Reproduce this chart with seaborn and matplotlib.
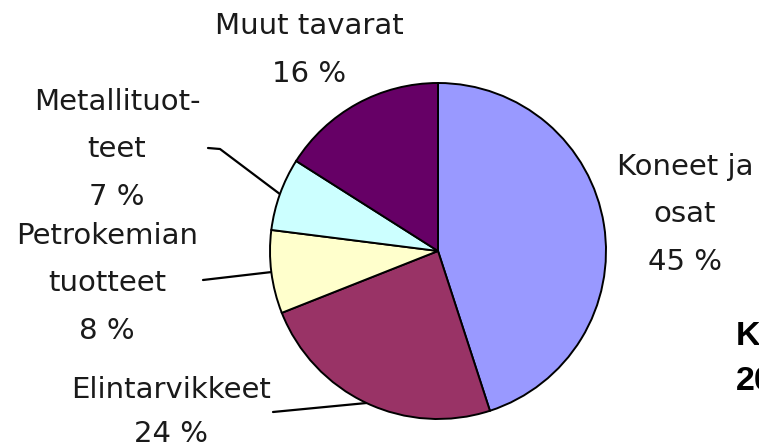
import matplotlib
matplotlib.use("Agg")
import matplotlib.pyplot as plt
import numpy as np
import seaborn as sns

# Data: shares of goods (%), clockwise from the top
categories = ["Koneet ja\nosat", "Elintarvikkeet", "Petrokemian\ntuotteet",
              "Metallituot-\nteet", "Muut tavarat"]
shares = [45, 24, 8, 7, 16]
colors = ["#9999FF", "#993366", "#FFFFCC", "#CCFFFF", "#660066"]

sns.set_theme(style="white")
plt.rcParams["font.family"] = ["DejaVu Sans"]

W, H = 759, 447
fig = plt.figure(figsize=(W / 100, H / 100), dpi=100)
ax = fig.add_axes([0, 0, 1, 1])

cx, cy, r = 438, H - 251, 168
wedges, _ = ax.pie(
    shares,
    colors=sns.color_palette(colors),
    startangle=90,
    counterclock=False,
    center=(cx, cy),
    radius=r,
    wedgeprops=dict(edgecolor="black", linewidth=1.4),
)
ax.set_xlim(0, W)
ax.set_ylim(0, H)
ax.set_aspect("auto")
ax.axis("off")

# label placement (image coords: centre x, last baseline y, line spacing)
label_pos = [(685, 270, 1.89), (171, 442, 1.72), (107, 339, 1.89),
             (117, 205, 1.89), (309, 82, 1.89)]
# leader lines: text-side points (image coords), None = no leader
leader_pts = [None, [(273, 412)], [(203, 280)], [(208, 148), (220, 149)], None]

for w, cat, val, (lx, ly, ls), pts in zip(wedges, categories, shares,
                                         label_pos, leader_pts):
    ax.text(lx, H - ly, f"{cat}\n{val} %", ha="center", va="baseline",
            fontsize=21, color="#1a1a1a", linespacing=ls)
    if pts:
        mid = np.deg2rad((w.theta1 + w.theta2) / 2)
        ex, ey = cx + r * np.cos(mid), cy + r * np.sin(mid)
        xs = [p[0] for p in pts] + [ex]
        ys = [H - p[1] for p in pts] + [ey]
        ax.plot(xs, ys, color="black", linewidth=1.6, zorder=0)

# title text, cut off at the right edge in the original
ax.text(736, H - 345, "K", fontsize=24.5, fontweight="bold", color="black",
        family="Liberation Sans", ha="left", va="baseline")
ax.text(736, H - 390, "20", fontsize=24.5, fontweight="bold", color="black",
        family="Liberation Sans", ha="left", va="baseline")

fig.savefig("out.png", dpi=100)
